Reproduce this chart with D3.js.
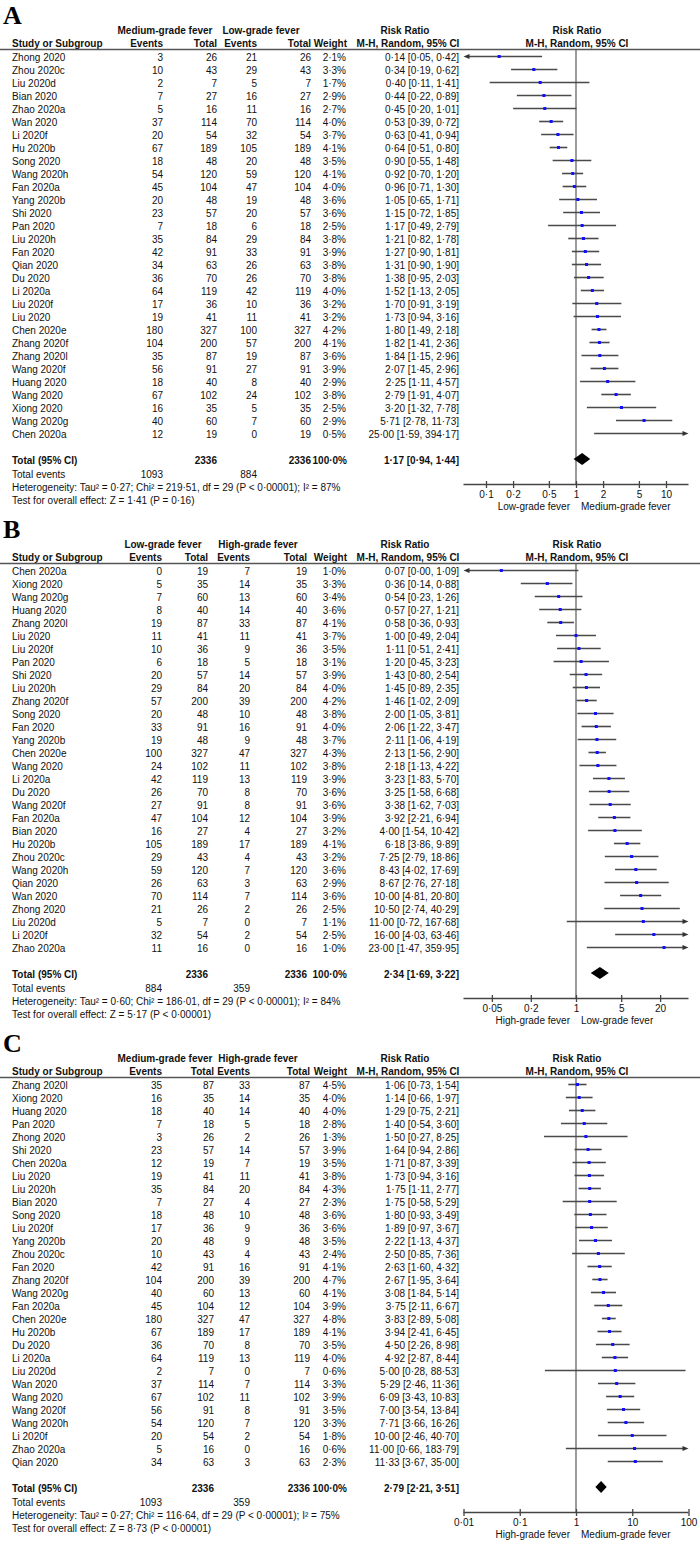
<!DOCTYPE html>
<html><head><meta charset="utf-8">
<script src="https://cdn.jsdelivr.net/npm/d3@7/dist/d3.min.js"></script>
<style>body{margin:0;background:#fff} svg{display:block}</style>
</head><body><svg id="chart" width="700" height="1563"></svg>
<script>
// ---------- Panel A: Medium-grade vs Low-grade ----------
const studiesA = ["Zhong 2020","Zhou 2020c","Liu 2020d","Bian 2020","Zhao 2020a","Wan 2020","Li 2020f","Hu 2020b","Song 2020","Wang 2020h","Fan 2020a","Yang 2020b","Shi 2020","Pan 2020","Liu 2020h","Fan 2020","Qian 2020","Du 2020","Li 2020a","Liu 2020f","Liu 2020","Chen 2020e","Zhang 2020f","Zhang 2020l","Wang 2020f","Huang 2020","Wang 2020","Xiong 2020","Wang 2020g","Chen 2020a"];
const ev1A = [3,10,2,7,5,37,20,67,18,54,45,20,23,7,35,42,34,36,64,17,19,180,104,35,56,18,67,16,40,12];
const tot1A = [26,43,7,27,16,114,54,189,48,120,104,48,57,18,84,91,63,70,119,36,41,327,200,87,91,40,102,35,60,19];
const ev2A = [21,29,5,16,11,70,32,105,20,59,47,19,20,6,29,33,26,26,42,10,11,100,57,19,27,8,24,5,7,0];
const tot2A = [26,43,7,27,16,114,54,189,48,120,104,48,57,18,84,91,63,70,119,36,41,327,200,87,91,40,102,35,60,19];
const weightA = [2.1,3.3,1.7,2.9,2.7,4.0,3.7,4.1,3.5,4.1,4.0,3.6,3.6,2.5,3.8,3.9,3.8,3.8,4.0,3.2,3.2,4.2,4.1,3.6,3.9,2.9,3.8,2.5,2.9,0.5];
const rrA = [0.14,0.34,0.40,0.44,0.45,0.53,0.63,0.64,0.90,0.92,0.96,1.05,1.15,1.17,1.21,1.27,1.31,1.38,1.52,1.70,1.73,1.80,1.82,1.84,2.07,2.25,2.79,3.20,5.71,25.00];
const loA = [0.05,0.19,0.11,0.22,0.20,0.39,0.41,0.51,0.55,0.70,0.71,0.65,0.72,0.49,0.82,0.90,0.90,0.95,1.13,0.91,0.94,1.49,1.41,1.15,1.45,1.11,1.91,1.32,2.78,1.59];
const hiA = [0.42,0.62,1.41,0.89,1.01,0.72,0.94,0.80,1.48,1.20,1.30,1.71,1.85,2.79,1.78,1.81,1.90,2.03,2.05,3.19,3.16,2.18,2.36,2.96,2.96,4.57,4.07,7.78,11.73,394.17];

// ---------- Panel B: Low-grade vs High-grade ----------
const studiesB = ["Chen 2020a","Xiong 2020","Wang 2020g","Huang 2020","Zhang 2020l","Liu 2020","Liu 2020f","Pan 2020","Shi 2020","Liu 2020h","Zhang 2020f","Song 2020","Fan 2020","Yang 2020b","Chen 2020e","Wang 2020","Li 2020a","Du 2020","Wang 2020f","Fan 2020a","Bian 2020","Hu 2020b","Zhou 2020c","Wang 2020h","Qian 2020","Wan 2020","Zhong 2020","Liu 2020d","Li 2020f","Zhao 2020a"];
const ev1B = [0,5,7,8,19,11,10,6,20,29,57,20,33,19,100,24,42,26,27,47,16,105,29,59,26,70,21,5,32,11];
const tot1B = [19,35,60,40,87,41,36,18,57,84,200,48,91,48,327,102,119,70,91,104,27,189,43,120,63,114,26,7,54,16];
const ev2B = [7,14,13,14,33,11,9,5,14,20,39,10,16,9,47,11,13,8,8,12,4,17,4,7,3,7,2,0,2,0];
const tot2B = [19,35,60,40,87,41,36,18,57,84,200,48,91,48,327,102,119,70,91,104,27,189,43,120,63,114,26,7,54,16];
const weightB = [1.0,3.3,3.4,3.6,4.1,3.7,3.5,3.1,3.9,4.0,4.2,3.8,4.0,3.7,4.3,3.8,3.9,3.6,3.6,3.9,3.2,4.1,3.2,3.6,2.9,3.6,2.5,1.1,2.5,1.0];
const rrB = [0.07,0.36,0.54,0.57,0.58,1.00,1.11,1.20,1.43,1.45,1.46,2.00,2.06,2.11,2.13,2.18,3.23,3.25,3.38,3.92,4.00,6.18,7.25,8.43,8.67,10.00,10.50,11.00,16.00,23.00];
const loB = [0.00,0.14,0.23,0.27,0.36,0.49,0.51,0.45,0.80,0.89,1.02,1.05,1.22,1.06,1.56,1.13,1.83,1.58,1.62,2.21,1.54,3.86,2.79,4.02,2.76,4.81,2.74,0.72,4.03,1.47];
const hiB = [1.09,0.88,1.26,1.21,0.93,2.04,2.41,3.23,2.54,2.35,2.09,3.81,3.47,4.19,2.90,4.22,5.70,6.68,7.03,6.94,10.42,9.89,18.86,17.69,27.18,20.80,40.29,167.68,63.46,359.95];

// ---------- Panel C: Medium-grade vs High-grade ----------
const studiesC = ["Zhang 2020l","Xiong 2020","Huang 2020","Pan 2020","Zhong 2020","Shi 2020","Chen 2020a","Liu 2020","Liu 2020h","Bian 2020","Song 2020","Liu 2020f","Yang 2020b","Zhou 2020c","Fan 2020","Zhang 2020f","Wang 2020g","Fan 2020a","Chen 2020e","Hu 2020b","Du 2020","Li 2020a","Liu 2020d","Wan 2020","Wang 2020","Wang 2020f","Wang 2020h","Li 2020f","Zhao 2020a","Qian 2020"];
const ev1C = [35,16,18,7,3,23,12,19,35,7,18,17,20,10,42,104,40,45,180,67,36,64,2,37,67,56,54,20,5,34];
const tot1C = [87,35,40,18,26,57,19,41,84,27,48,36,48,43,91,200,60,104,327,189,70,119,7,114,102,91,120,54,16,63];
const ev2C = [33,14,14,5,2,14,7,11,20,4,10,9,9,4,16,39,13,12,47,17,8,13,0,7,11,8,7,2,0,3];
const tot2C = [87,35,40,18,26,57,19,41,84,27,48,36,48,43,91,200,60,104,327,189,70,119,7,114,102,91,120,54,16,63];
const weightC = [4.5,4.0,4.0,2.8,1.3,3.9,3.5,3.8,4.3,2.3,3.6,3.6,3.5,2.4,4.1,4.7,4.1,3.9,4.8,4.1,3.5,4.0,0.6,3.3,3.9,3.5,3.3,1.8,0.6,2.3];
const rrC = [1.06,1.14,1.29,1.40,1.50,1.64,1.71,1.73,1.75,1.75,1.80,1.89,2.22,2.50,2.63,2.67,3.08,3.75,3.83,3.94,4.50,4.92,5.00,5.29,6.09,7.00,7.71,10.00,11.00,11.33];
const loC = [0.73,0.66,0.75,0.54,0.27,0.94,0.87,0.94,1.11,0.58,0.93,0.97,1.13,0.85,1.60,1.95,1.84,2.11,2.89,2.41,2.26,2.87,0.28,2.46,3.43,3.54,3.66,2.46,0.66,3.67];
const hiC = [1.54,1.97,2.21,3.60,8.25,2.86,3.39,3.16,2.77,5.29,3.49,3.67,4.37,7.36,4.32,3.64,5.14,6.67,5.08,6.45,8.98,8.44,88.53,11.36,10.83,13.84,16.26,40.70,183.79,35.00];

// ---------- Panel summaries ----------
const panelLetters = ["A","B","C"];
const group1Labels = ["Medium-grade fever","Low-grade fever","Medium-grade fever"];
const group2Labels = ["Low-grade fever","High-grade fever","High-grade fever"];
const totalN1 = [2336,2336,2336];
const totalN2 = [2336,2336,2336];
const totalEvents1 = [1093,884,1093];
const totalEvents2 = [884,359,359];
const totalRR = [1.17,2.34,2.79];
const totalLo = [0.94,1.69,2.21];
const totalHi = [1.44,3.22,3.51];
const heterogeneityText = [
  "Heterogeneity: Tau\u00b2 = 0\u00b727; Chi\u00b2 = 219\u00b751, df = 29 (P < 0\u00b700001); I\u00b2 = 87%",
  "Heterogeneity: Tau\u00b2 = 0\u00b760; Chi\u00b2 = 186\u00b701, df = 29 (P < 0\u00b700001); I\u00b2 = 84%",
  "Heterogeneity: Tau\u00b2 = 0\u00b727; Chi\u00b2 = 116\u00b764, df = 29 (P < 0\u00b700001); I\u00b2 = 75%"];
const overallText = [
  "Test for overall effect: Z = 1\u00b741 (P = 0\u00b716)",
  "Test for overall effect: Z = 5\u00b717 (P < 0\u00b700001)",
  "Test for overall effect: Z = 8\u00b773 (P < 0\u00b700001)"];
const ticksA = [0.1,0.2,0.5,1,2,5,10];
const ticksB = [0.05,0.2,1,5,20];
const ticksC = [0.01,0.1,1,10,100];
const tickLabelsA = ["0\u00b71","0\u00b72","0\u00b75","1","2","5","10"];
const tickLabelsB = ["0\u00b705","0\u00b72","1","5","20"];
const tickLabelsC = ["0\u00b701","0\u00b71","1","10","100"];
const axisDecades = [1.25,1.74,2];
const favoursLeft = ["Low-grade fever","High-grade fever","High-grade fever"];
const favoursRight = ["Medium-grade fever","Low-grade fever","Medium-grade fever"];

// ---------- layout (not data) ----------
const panelOffsets = [0,514,1028];
const colLayouts = [
  {g1:165,g2:261,ev1:163,tot1:217,ev2:257,tot2:311,wt:346,ci:459},
  {g1:163,g2:258,ev1:162,tot1:208,ev2:250,tot2:307,wt:346,ci:459},
  {g1:165,g2:258,ev1:162,tot1:214,ev2:250,tot2:310,wt:346,ci:459}
];
const panels = [
  {studies:studiesA,ev1:ev1A,tot1:tot1A,ev2:ev2A,tot2:tot2A,w:weightA,rr:rrA,lo:loA,hi:hiA,ticks:ticksA,tl:tickLabelsA},
  {studies:studiesB,ev1:ev1B,tot1:tot1B,ev2:ev2B,tot2:tot2B,w:weightB,rr:rrB,lo:loB,hi:hiB,ticks:ticksB,tl:tickLabelsB},
  {studies:studiesC,ev1:ev1C,tot1:tot1C,ev2:ev2C,tot2:tot2C,w:weightC,rr:rrC,lo:loC,hi:hiC,ticks:ticksC,tl:tickLabelsC}
];

const svg = d3.select("#chart");
svg.append("rect").attr("width",700).attr("height",1563).attr("fill","#fff");
const FONT = "'Liberation Sans', Arial, Helvetica, sans-serif";
const f2 = d3.format(".2f"), f1 = d3.format(".1f");
const dot = s => s.replace(".", "\u00b7");
const fmtCI = (r,l,h) => `${dot(f2(r))} [${dot(f2(l))}, ${dot(f2(h))}]`;

const ROW0 = 57, STEP = 13;
const XL = 463.5, XR = 688.5;

panels.forEach((p, k) => {
  const off = panelOffsets[k];
  const C = colLayouts[k];
  const g = svg.append("g").attr("transform", `translate(0,${off})`)
    .style("font-family", FONT).style("font-size", "10px").attr("fill", "#111");
  const txt = (x, y, s, anchor, bold) => g.append("text").attr("x", x).attr("y", y)
    .attr("text-anchor", anchor || "start").attr("font-weight", bold ? "bold" : "normal").text(s);

  // Panel letter
  g.append("text").attr("x", 3).attr("y", 23.5).text(panelLetters[k])
    .style("font-family", "'Liberation Serif','Times New Roman',serif")
    .style("font-size", "26px").attr("font-weight", "bold").attr("fill", "#000");

  // headers
  const h1 = 34, h2 = 46.5;
  txt(C.g1, h1, group1Labels[k], "middle", true);
  txt(C.g2, h1, group2Labels[k], "middle", true);
  txt(405, h1, "Risk Ratio", "middle", true);
  txt(577, h1, "Risk Ratio", "middle", true);
  txt(12, h2, "Study or Subgroup", "start", true);
  txt(C.ev1, h2, "Events", "end", true);
  txt(C.tot1, h2, "Total", "end", true);
  txt(C.ev2, h2, "Events", "end", true);
  txt(C.tot2, h2, "Total", "end", true);
  txt(C.wt + 1, h2, "Weight", "end", true);
  txt(408, h2, "M-H, Random, 95% CI", "middle", true);
  txt(577, h2, "M-H, Random, 95% CI", "middle", true);
  g.append("line").attr("x1", 0).attr("x2", 700).attr("y1", 49.5).attr("y2", 49.5)
    .attr("stroke", "#555").attr("stroke-width", 1.5);

  // scale & axis
  const dec = axisDecades[k];
  const x = d3.scaleLog().domain([Math.pow(10, -dec), Math.pow(10, dec)]).range([XL, XR]);
  const [dmin, dmax] = x.domain();
  const n = p.studies.length;
  const rowY = i => ROW0 + STEP * i;
  const totalY = rowY(n - 1) + 26;
  const axisY = totalY + 24.5;

  // vertical null line
  g.append("line").attr("x1", x(1)).attr("x2", x(1)).attr("y1", 50).attr("y2", axisY)
    .attr("stroke", "#666").attr("stroke-width", 1.3);

  // rows
  p.studies.forEach((s, i) => {
    const y = rowY(i), ty = y + 3.6;
    txt(12, ty, s);
    txt(C.ev1, ty, p.ev1[i], "end");
    txt(C.tot1, ty, p.tot1[i], "end");
    txt(C.ev2, ty, p.ev2[i], "end");
    txt(C.tot2, ty, p.tot2[i], "end");
    txt(C.wt, ty, dot(f1(p.w[i])) + "%", "end");
    txt(C.ci, ty, fmtCI(p.rr[i], p.lo[i], p.hi[i]), "end");

    const ly = y - 0.5;
    const leftArrow = p.lo[i] < dmin, rightArrow = p.hi[i] > dmax;
    const x1 = leftArrow ? XL : x(p.lo[i]);
    const x2 = rightArrow ? XR : x(p.hi[i]);
    g.append("line").attr("x1", leftArrow ? x1 + 4 : x1).attr("x2", rightArrow ? x2 - 4 : x2)
      .attr("y1", ly).attr("y2", ly).attr("stroke", "#4a4a4a").attr("stroke-width", 1.6);
    if (leftArrow) g.append("path").attr("d", `M${x1},${ly} L${x1 + 6},${ly - 2.6} L${x1 + 6},${ly + 2.6} Z`).attr("fill", "#333");
    if (rightArrow) g.append("path").attr("d", `M${x2},${ly} L${x2 - 6},${ly - 2.6} L${x2 - 6},${ly + 2.6} Z`).attr("fill", "#333");
    g.append("rect").attr("x", x(p.rr[i]) - 1.5).attr("y", ly - 1.5).attr("width", 3).attr("height", 3)
      .attr("fill", "#1010ff");
  });

  // total row
  const tty = totalY + 3.6;
  txt(12, tty, "Total (95% CI)", "start", true);
  txt(C.tot1, tty, totalN1[k], "end", true);
  txt(C.tot2, tty, totalN2[k], "end", true);
  txt(C.wt + 1, tty, "100\u00b70%", "end", true);
  txt(C.ci, tty, fmtCI(totalRR[k], totalLo[k], totalHi[k]), "end", true);
  const dy = totalY - 1;
  g.append("path").attr("d",
    `M${x(totalLo[k])},${dy} L${x(totalRR[k])},${dy - 6} L${x(totalHi[k])},${dy} L${x(totalRR[k])},${dy + 6} Z`)
    .attr("fill", "#000");

  txt(12, totalY + 14 + 3.6, "Total events");
  txt(C.ev1, totalY + 14 + 3.6, totalEvents1[k], "end");
  txt(C.ev2, totalY + 14 + 3.6, totalEvents2[k], "end");
  txt(12, totalY + 27 + 3.6, heterogeneityText[k]);
  txt(12, totalY + 40 + 3.6, overallText[k]);

  // axis
  const axis = d3.axisBottom(x).tickValues(p.ticks).tickFormat((d, i) => p.tl[i]).tickSize(0).tickPadding(6);
  const ag = g.append("g").attr("transform", `translate(0,${axisY})`).call(axis);
  ag.select(".domain").remove();
  ag.selectAll("text").style("font-family", FONT).style("font-size", "10px").attr("fill", "#111");
  ag.append("line").attr("x1", XL).attr("x2", XR).attr("y1", 0).attr("y2", 0)
    .attr("stroke", "#444").attr("stroke-width", 1.4);
  ag.selectAll(".tick").append("line").attr("y1", -3.5).attr("y2", 3.5)
    .attr("stroke", "#444").attr("stroke-width", 1.3);
  txt(x(1) - 6, axisY + 25, favoursLeft[k], "end");
  txt(x(1) + 5, axisY + 25, favoursRight[k], "start");
});
</script></body></html>
